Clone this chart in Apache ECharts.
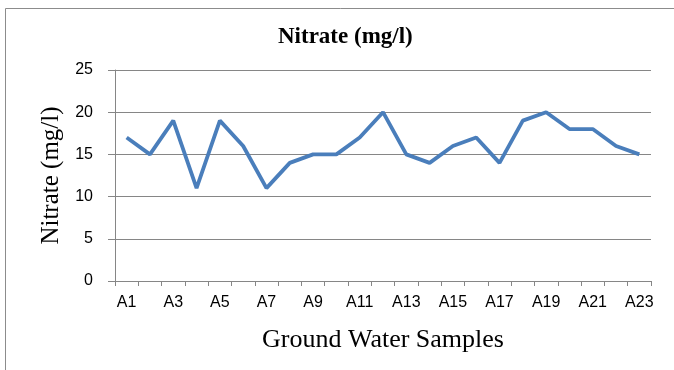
<!DOCTYPE html>
<html>
<head>
<meta charset="utf-8">
<script src="https://cdn.jsdelivr.net/npm/echarts@6/dist/echarts.min.js"></script>
<style>html,body{margin:0;padding:0;background:#fff;}#c{width:674px;height:370px;}</style>
</head>
<body>
<div id="c"></div>
<script>
const categories = ['A1','A2','A3','A4','A5','A6','A7','A8','A9','A10','A11','A12','A13','A14','A15','A16','A17','A18','A19','A20','A21','A22','A23'];
const nitrate = [17,15,19,11,19,16,11,14,15,15,17,20,15,14,16,17,14,19,20,18,18,16,15];
const titleText = 'Nitrate (mg/l)';
const yName = 'Nitrate (mg/l)';
const xName = 'Ground Water Samples';

const chart = echarts.init(document.getElementById('c'), null, {renderer:'canvas'});
chart.setOption({
  animation:false,
  backgroundColor:'#fff',
  graphic:[{type:'rect', shape:{x:5.5,y:8.5,width:720,height:420}, style:{fill:'none', stroke:'#8c8c8c', lineWidth:1}, silent:true}],
  title:{text:titleText, left:273, top:21, textStyle:{fontFamily:'Liberation Serif', fontWeight:'bold', fontSize:23, color:'#000'}},
  grid:{left:115, right:23, top:70, bottom:89, containLabel:false},
  xAxis:{
    type:'category', data:categories, boundaryGap:true,
    name:xName, nameLocation:'middle', nameGap:46,
    nameTextStyle:{fontFamily:'Liberation Serif', fontSize:26, color:'#000'},
    axisLine:{lineStyle:{color:'#868686'}},
    axisTick:{show:true, length:5, lineStyle:{color:'#868686'}, interval:0},
    axisLabel:{interval:1, margin:14, fontFamily:'Liberation Sans', fontSize:16, color:'#000'},
    splitLine:{show:false}
  },
  yAxis:{
    type:'value', min:0, max:25, interval:5,
    name:yName, nameLocation:'middle', nameGap:49, nameRotate:90,
    nameTextStyle:{fontFamily:'Liberation Serif', fontSize:25, color:'#000'},
    axisLine:{show:true, lineStyle:{color:'#868686'}},
    axisTick:{show:true, length:7, lineStyle:{color:'#868686'}},
    axisLabel:{margin:22, fontFamily:'Liberation Sans', fontSize:16, color:'#000'},
    splitLine:{show:true, lineStyle:{color:'#868686', width:1}}
  },
  series:[{type:'line', data:nitrate, symbol:'none', lineStyle:{color:'#4a7ebb', width:3.8}, itemStyle:{color:'#4a7ebb'}}]
});
</script>
</body>
</html>
